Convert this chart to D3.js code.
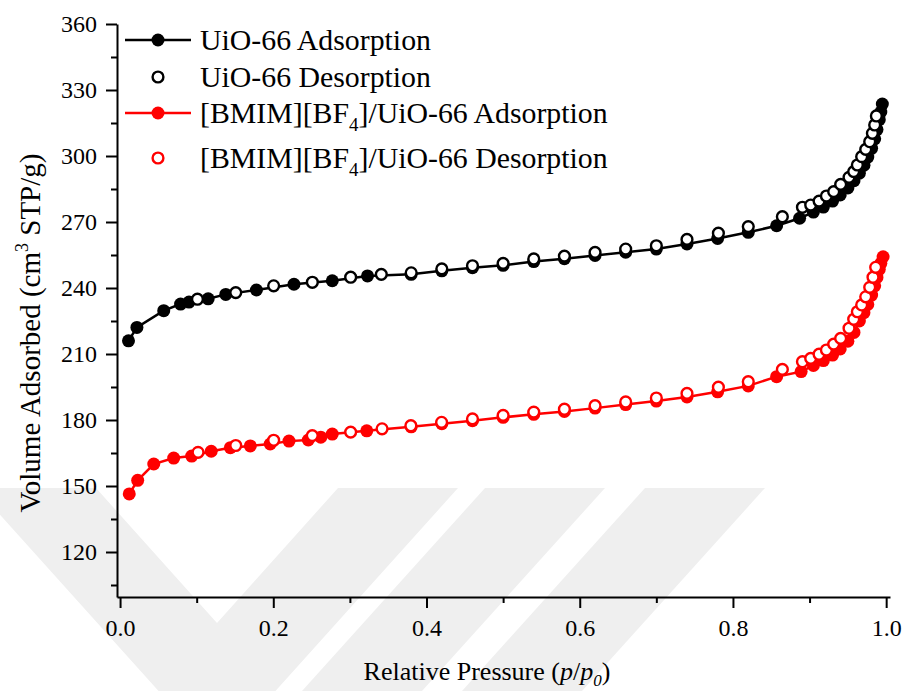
<!DOCTYPE html>
<html>
<head>
<meta charset="utf-8">
<script src="https://cdn.jsdelivr.net/npm/d3@7"></script>
<style>
  body { margin: 0; background: #fff; }
  svg { display: block; }
  text { font-family: "Liberation Serif", "Times New Roman", serif; fill: #000; }
</style>
</head>
<body>
<svg id="chart" width="904" height="691"></svg>
<script>
// N2 isotherms at 77 K: relative pressure p/p0 and adsorbed volume (cm3 STP/g)
const uioAdsP = [0.011, 0.022, 0.057, 0.079, 0.090, 0.115, 0.138, 0.178, 0.227, 0.277, 0.323,
  0.380, 0.420, 0.460, 0.500, 0.540, 0.580, 0.620, 0.660, 0.700, 0.740, 0.780, 0.820, 0.857,
  0.887, 0.905, 0.918, 0.930, 0.940, 0.950, 0.958, 0.965, 0.971, 0.976, 0.981, 0.985, 0.988,
  0.991, 0.993, 0.995];
const uioAdsV = [216.0, 222.1, 229.7, 232.7, 233.6, 235.1, 237.1, 239.1, 241.7, 243.3, 245.5,
  246.2, 247.8, 249.2, 250.3, 252.0, 253.3, 254.8, 256.3, 257.7, 260.0, 262.5, 265.3, 268.3,
  271.7, 274.5, 276.8, 279.5, 282.3, 285.5, 288.8, 292.2, 295.8, 299.5, 303.5, 307.8, 312.0,
  316.5, 320.0, 323.6];

const uioDesP = [0.101, 0.151, 0.2005, 0.251, 0.301, 0.341, 0.380, 0.420, 0.460, 0.500, 0.540,
  0.580, 0.620, 0.660, 0.700, 0.740, 0.781, 0.820, 0.8645, 0.8907, 0.9015, 0.9124, 0.922,
  0.9315, 0.9406, 0.9515, 0.9576, 0.9624, 0.968, 0.9733, 0.9785, 0.982, 0.985, 0.9872];
const uioDesV = [234.9, 237.9, 241.0, 242.6, 244.9, 246.2, 246.9, 248.7, 250.1, 251.2, 253.2,
  254.5, 256.2, 257.7, 259.2, 262.1, 264.9, 267.9, 272.4, 276.7, 277.7, 279.5, 281.8,
  283.8, 287.1, 290.3, 292.9, 295.9, 299.7, 303.0, 306.5, 310.3, 314.1, 318.2];

const ilAdsP = [0.012, 0.023, 0.044, 0.070, 0.0935, 0.119, 0.144, 0.170, 0.196, 0.2205, 0.2457,
  0.262, 0.277, 0.322, 0.380, 0.420, 0.460, 0.500, 0.540, 0.580, 0.620, 0.660, 0.700, 0.740,
  0.780, 0.820, 0.857, 0.889, 0.905, 0.918, 0.930, 0.940, 0.950, 0.958, 0.965, 0.971, 0.976,
  0.981, 0.985, 0.988, 0.991, 0.993, 0.996];
const ilAdsV = [146.4, 152.6, 160.0, 162.7, 163.6, 165.8, 167.4, 168.2, 169.1, 170.4, 170.9,
  172.2, 173.6, 175.1, 176.9, 178.3, 179.7, 181.2, 182.6, 183.9, 185.4, 187.0, 188.6, 190.5,
  192.8, 195.5, 199.7, 202.0, 204.8, 207.0, 209.5, 212.3, 215.8, 219.8, 225.0, 228.8, 232.5,
  236.8, 241.0, 244.8, 248.5, 251.2, 254.2];

const ilDesP = [0.1018, 0.151, 0.2005, 0.2509, 0.301, 0.342, 0.3796, 0.4197, 0.460, 0.500,
  0.540, 0.580, 0.620, 0.660, 0.700, 0.740, 0.781, 0.820, 0.8645, 0.8907, 0.9015, 0.9124,
  0.922, 0.9315, 0.9406, 0.9515, 0.9576, 0.9624, 0.968, 0.9733, 0.9785, 0.9828, 0.9863];
const ilDesV = [165.3, 168.4, 170.8, 172.9, 174.5, 176.0, 177.4, 178.95, 180.5, 182.1,
  183.6, 184.9, 186.5, 188.2, 190.0, 192.1, 194.9, 197.4, 203.0, 206.5, 208.0, 209.9,
  211.8, 214.5, 217.1, 221.7, 225.8, 229.2, 232.3, 236.0, 240.3, 244.9, 249.4];

const yTicks = [120, 150, 180, 210, 240, 270, 300, 330, 360];
const yMinorTicks = [105, 135, 165, 195, 225, 255, 285, 315, 345];
const xTicks = [0.0, 0.2, 0.4, 0.6, 0.8, 1.0];
const xMinorTicks = [0.1, 0.3, 0.5, 0.7, 0.9];

const svg = d3.select("#chart");

// faint background chevrons
const wm = svg.append("g").attr("fill", "#efefef");
wm.append("polygon").attr("points", "-24,488 96,488 217,623 338,488 458,488 217,756");
wm.append("polygon").attr("points", "485,488 605,488 422,691 302,691");
wm.append("polygon").attr("points", "645,488 765,488 582,691 462,691");

const x = d3.scaleLinear().domain([-0.004, 1.005]).range([117, 890]);
const y = d3.scaleLinear().domain([99.5, 360]).range([597.1, 24]);

// axes
svg.append("g").attr("transform", "translate(117,0)")
  .call(d3.axisLeft(y).tickValues(yTicks).tickSize(11).tickSizeOuter(0).tickPadding(9));
svg.append("g").attr("transform", "translate(117,0)")
  .call(d3.axisLeft(y).tickValues(yMinorTicks).tickSize(6).tickSizeOuter(0).tickFormat(""))
  .select(".domain").remove();
svg.append("g").attr("transform", "translate(0,597)")
  .call(d3.axisBottom(x).tickValues(xTicks).tickSize(11).tickSizeOuter(0).tickPadding(11)
    .tickFormat(d3.format(".1f")));
svg.append("g").attr("transform", "translate(0,597)")
  .call(d3.axisBottom(x).tickValues(xMinorTicks).tickSize(6).tickSizeOuter(0).tickFormat(""))
  .select(".domain").remove();
svg.selectAll(".domain, .tick line").attr("stroke", "#000").attr("stroke-width", 2);
svg.selectAll(".tick text").attr("font-size", 24).attr("font-family", "Liberation Serif, serif");

// axis titles
const xt = svg.append("text").attr("x", 487).attr("y", 680).attr("text-anchor", "middle")
  .attr("font-size", 26);
xt.append("tspan").text("Relative Pressure (");
xt.append("tspan").attr("font-style", "italic").text("p");
xt.append("tspan").text("/");
xt.append("tspan").attr("font-style", "italic").text("p");
xt.append("tspan").attr("font-style", "italic").attr("font-size", 17).attr("dy", 6).text("0");
xt.append("tspan").attr("dy", -6).text(")");

const yt = svg.append("text").attr("transform", "translate(40,333) rotate(-90)")
  .attr("text-anchor", "middle").attr("font-size", 29);
yt.append("tspan").text("Volume Adsorbed (cm");
yt.append("tspan").attr("font-size", 18).attr("dy", -12).text("3");
yt.append("tspan").attr("dy", 12).text(" STP/g)");

// series
const series = [
  { p: uioAdsP, v: uioAdsV, color: "#000", filled: true },
  { p: uioDesP, v: uioDesV, color: "#000", filled: false },
  { p: ilAdsP, v: ilAdsV, color: "#ff0000", filled: true },
  { p: ilDesP, v: ilDesV, color: "#ff0000", filled: false }
];
const line = d3.line().x(d => x(d[0])).y(d => y(d[1]));

series.forEach(s => {
  const pts = s.p.map((p, i) => [p, s.v[i]]);
  const g = svg.append("g");
  if (s.filled) {
    g.append("path").attr("d", line(pts)).attr("fill", "none")
      .attr("stroke", s.color).attr("stroke-width", 2.5);
    g.selectAll("circle").data(pts).join("circle")
      .attr("cx", d => x(d[0])).attr("cy", d => y(d[1])).attr("r", 6.5)
      .attr("fill", s.color);
  } else {
    g.selectAll("circle").data(pts).join("circle")
      .attr("cx", d => x(d[0])).attr("cy", d => y(d[1])).attr("r", 5.4)
      .attr("fill", "#fff").attr("stroke", s.color).attr("stroke-width", 2.4);
  }
});

// legend
const legendRows = [
  { cy: 40, color: "#000", filled: true, parts: [["UiO-66 Adsorption"]] },
  { cy: 77, color: "#000", filled: false, parts: [["UiO-66 Desorption"]] },
  { cy: 113, color: "#ff0000", filled: true, parts: [["[BMIM][BF"], ["4", "sub"], ["]/UiO-66 Adsorption"]] },
  { cy: 158, color: "#ff0000", filled: false, parts: [["[BMIM][BF"], ["4", "sub"], ["]/UiO-66 Desorption"]] }
];
const lg = svg.append("g");
legendRows.forEach(r => {
  if (r.filled) {
    lg.append("line").attr("x1", 125).attr("x2", 191).attr("y1", r.cy).attr("y2", r.cy)
      .attr("stroke", r.color).attr("stroke-width", 2.5);
    lg.append("circle").attr("cx", 158).attr("cy", r.cy).attr("r", 6.5).attr("fill", r.color);
  } else {
    lg.append("circle").attr("cx", 158).attr("cy", r.cy).attr("r", 5.4)
      .attr("fill", "#fff").attr("stroke", r.color).attr("stroke-width", 2.4);
  }
  const t = lg.append("text").attr("x", 200).attr("y", r.cy + 10).attr("font-size", 29.8);
  let shift = 0;
  r.parts.forEach(([str, kind]) => {
    const target = kind === "sub" ? 8 : 0;
    const ts = t.append("tspan").attr("dy", target - shift).text(str);
    if (kind === "sub") ts.attr("font-size", 19);
    shift = target;
  });
});
</script>
</body>
</html>
